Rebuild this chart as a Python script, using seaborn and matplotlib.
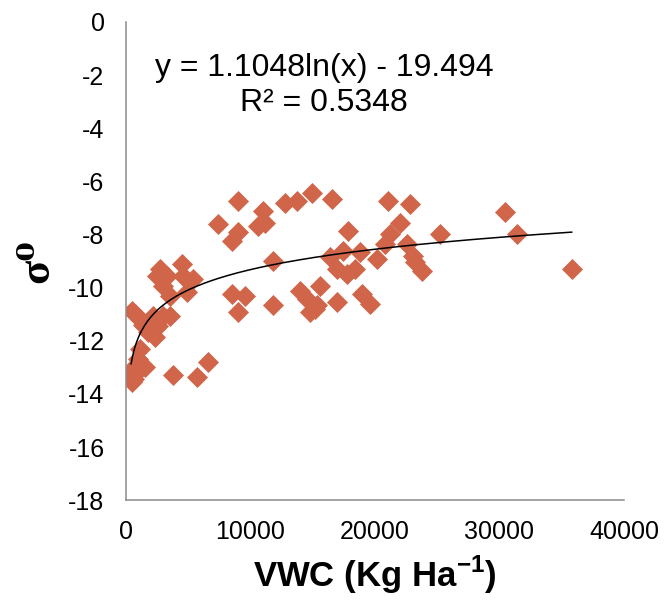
import numpy as np
import pandas as pd
import matplotlib
matplotlib.use("Agg")
import matplotlib.pyplot as plt
import seaborn as sns

# Data (VWC in Kg/Ha, sigma0 in dB)
vwc = [400, 420, 460, 1120, 1530, 990, 1120, 460, 1120, 2190,
       3000, 1790, 2330, 3530, 2730, 2470, 3270, 4470, 4600, 5410,
       3530, 4880, 3000, 3800, 5680, 6610, 8490, 9020, 9560, 9020,
       7410, 9020, 8490, 11030, 11160, 10630, 11830, 11830, 12770, 13710,
       14920, 16520, 13980, 14510, 14780, 15320, 15580, 16920, 16390, 16920,
       17450, 17730, 18390, 17860, 18800, 20140, 18930, 19600, 21070, 22810,
       22010, 21200, 20800, 22550, 23080, 23210, 23750, 25220, 30440, 31380,
       35820, 15180, 600, 700, 2600, 1400]
sigma0 = [-13.35, -13.11, -13.55, -13.05, -12.98, -12.67, -12.30, -10.86, -11.17, -11.05,
          -11.05, -11.67, -11.86, -11.05, -9.30, -9.55, -9.55, -9.11, -9.55, -9.67,
          -10.30, -10.17, -9.93, -13.30, -13.36, -12.80, -10.24, -10.92, -10.30, -6.74,
          -7.61, -7.92, -8.24, -7.11, -7.55, -7.68, -8.99, -10.67, -6.80, -6.74,
          -6.42, -6.67, -10.11, -10.42, -10.92, -10.67, -9.93, -10.55, -8.86, -9.30,
          -8.61, -9.49, -9.30, -7.86, -8.67, -8.92, -10.24, -10.61, -6.74, -6.86,
          -7.55, -7.99, -8.36, -8.36, -8.80, -9.05, -9.36, -7.99, -7.17, -7.99,
          -9.30, -10.80, -13.45, -11.00, -11.45, -11.40]

# Trendline shown on the chart: y = a*ln(x) + b
coef_a = 1.1048
coef_b = -19.494
r_squared = 0.5348

df = pd.DataFrame({"vwc": vwc, "sigma0": sigma0})

sns.set_style("white")
plt.rcParams["font.family"] = ["Liberation Sans", "DejaVu Sans"]
plt.rcParams["text.color"] = "black"
plt.rcParams["axes.labelcolor"] = "black"
plt.rcParams["axes.unicode_minus"] = False
plt.rcParams["mathtext.fontset"] = "custom"
plt.rcParams["mathtext.rm"] = "Liberation Sans"
plt.rcParams["mathtext.bf"] = "Liberation Sans:bold"

fig = plt.figure(figsize=(6.67, 6.02), dpi=100)
ax = fig.add_axes([0.189, 0.169, 0.7465, 0.7945])

sns.scatterplot(data=df, x="vwc", y="sigma0", marker="D", s=115,
                color="#D0654A", linewidth=0, ax=ax, zorder=2)

trend_x = np.linspace(min(vwc), max(vwc), 300)
trend_y = coef_a * np.log(trend_x) + coef_b
ax.plot(trend_x, trend_y, color="black", lw=1.1, zorder=3)

ax.text(15900, -2.4, f"y = {coef_a}ln(x) - {abs(coef_b)}\nR² = {r_squared}",
        ha="center", va="center", fontsize=23, linespacing=1.2, color="black")

ax.set_xlim(0, 40000)
ax.set_ylim(-18, 0)
ax.set_xticks(np.arange(0, 40001, 10000))
ax.set_yticks(np.arange(-18, 1, 2))

for side in ["top", "right"]:
    ax.spines[side].set_visible(False)
for side in ["left", "bottom"]:
    ax.spines[side].set_color("#8a8a8a")
    ax.spines[side].set_linewidth(1.1)
ax.tick_params(axis="both", direction="out", length=5.5, width=1.1,
               color="#8a8a8a", labelsize=18, labelcolor="black")
ax.tick_params(axis="x", pad=9)
ax.tick_params(axis="y", pad=10)

ax.set_xlabel(r"VWC (Kg Ha$^{\mathbf{-1}}$)", fontsize=25, fontweight="bold", labelpad=7)
ax.set_ylabel("σ⁰", fontsize=32, fontweight="bold",
              family=["Liberation Serif", "DejaVu Serif"], labelpad=8)

fig.savefig("out.png", dpi=100)
